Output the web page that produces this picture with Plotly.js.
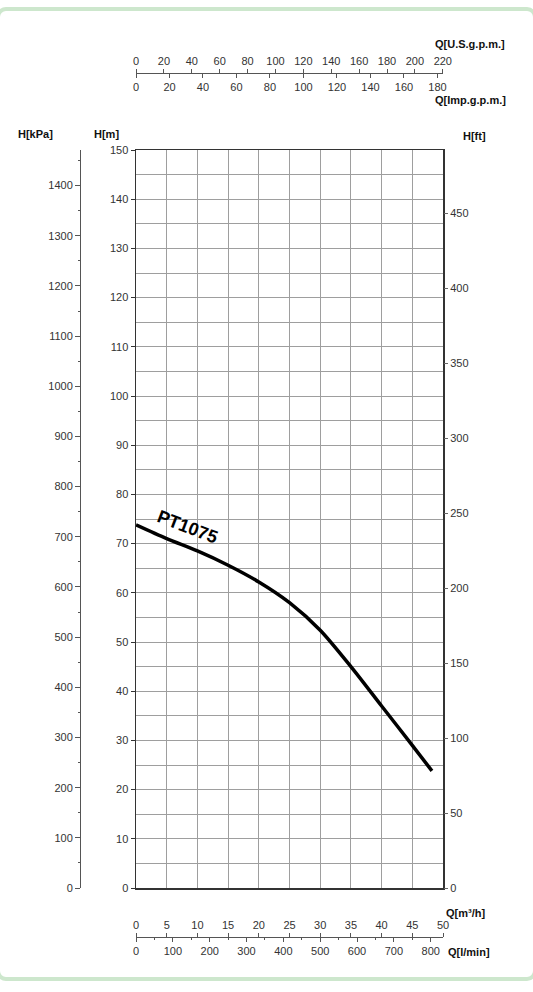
<!DOCTYPE html>
<html>
<head>
<meta charset="utf-8">
<script src="https://cdn.plot.ly/plotly-3.0.1.min.js"></script>
<style>
html,body{margin:0;padding:0;background:#fff;}
#chart{width:533px;height:992px;position:absolute;left:0;top:0;}
#frame{position:absolute;left:-4px;top:7px;width:533px;height:966px;border:4px solid #cde7cd;border-radius:10px;pointer-events:none;}
</style>
</head>
<body>
<div id="chart"></div>
<div id="frame"></div>
<script>
// Pump curve PT1075: flow Q [m³/h] vs head H [m]
const flowM3h = [0, 5, 10, 15, 20, 25, 30, 35, 40, 45, 48.2];
const headM   = [73.8, 71.0, 68.5, 65.6, 62.2, 58.0, 52.4, 45.0, 37.0, 29.0, 23.8];
const curveName = 'PT1075';

// axis ranges
const qMax = 50;          // m³/h
const hMax = 150;         // m
const kPaPerM = 9.80665;
const ftPerM = 1 / 0.3048;
const usGpmPerM3h = 4.40287;
const impGpmPerM3h = 3.66615;
const lminPerM3h = 1000 / 60;

const W = 533, H = 992;
const px = x => x / W;
const py = y => 1 - y / H;

const tickFont = {family: 'Liberation Sans, Arial, sans-serif', size: 11, color: '#333'};
const titleFont = {family: 'Liberation Sans, Arial, sans-serif', size: 11, color: '#111', weight: 'bold'};

const xDom = [px(136), px(443)];
const yDom = [py(888), py(150)];

const traces = [
  {x: flowM3h, y: headM, type: 'scatter', mode: 'lines', name: curveName,
   line: {color: '#000', width: 3.5, shape: 'spline', smoothing: 0.8},
   xaxis: 'x', yaxis: 'y', hoverinfo: 'skip'},
  // invisible anchors so the secondary scales are drawn
  {x: [0], y: [0], xaxis: 'x', yaxis: 'y2', mode: 'markers', marker: {opacity: 0}, hoverinfo: 'skip'},
  {x: [0], y: [0], xaxis: 'x', yaxis: 'y3', mode: 'markers', marker: {opacity: 0}, hoverinfo: 'skip'},
  {x: [0], y: [0], xaxis: 'x2', yaxis: 'y', mode: 'markers', marker: {opacity: 0}, hoverinfo: 'skip'},
  {x: [0], y: [0], xaxis: 'x3', yaxis: 'y', mode: 'markers', marker: {opacity: 0}, hoverinfo: 'skip'},
  {x: [0], y: [0], xaxis: 'x4', yaxis: 'y', mode: 'markers', marker: {opacity: 0}, hoverinfo: 'skip'},
  {x: [0], y: [0], xaxis: 'x5', yaxis: 'y', mode: 'markers', marker: {opacity: 0}, hoverinfo: 'skip'}
];

const gridColor = '#9e9e9e';
const qAxisCommon = {
  anchor: 'free', overlaying: 'x', domain: xDom, showgrid: false, zeroline: false,
  showline: true, linecolor: '#555', linewidth: 1, ticks: 'outside', ticklen: 4,
  tickcolor: '#555', tickfont: tickFont, fixedrange: true
};

function label(text, x, y, xanchor) {
  return {text: text, x: px(x), y: py(y), xref: 'paper', yref: 'paper',
          xanchor: xanchor || 'center', yanchor: 'middle', showarrow: false, font: titleFont};
}

const layout = {
  width: W, height: H,
  margin: {l: 0, r: 0, t: 0, b: 0},
  paper_bgcolor: '#fff', plot_bgcolor: '#fff',
  showlegend: false,
  xaxis: {
    domain: xDom, range: [0, qMax], dtick: 5, tick0: 0,
    showgrid: true, gridcolor: gridColor, gridwidth: 1,
    showticklabels: false, ticks: '', zeroline: false,
    showline: true, mirror: true, linecolor: '#333', linewidth: 1.5, fixedrange: true
  },
  yaxis: {
    domain: yDom, range: [0, hMax], dtick: 10, tick0: 0,
    showgrid: true, gridcolor: gridColor, gridwidth: 1,
    minor: {dtick: 5, showgrid: true, gridcolor: gridColor, gridwidth: 1},
    ticks: 'outside', ticklen: 4, tickcolor: '#333', tickfont: tickFont,
    zeroline: false, showline: true, mirror: true, linecolor: '#333', linewidth: 1.5, fixedrange: true
  },
  yaxis2: {
    domain: yDom, overlaying: 'y', side: 'right', anchor: 'x',
    range: [0, hMax * ftPerM], dtick: 50, tick0: 0,
    showgrid: false, zeroline: false, showline: false,
    ticks: 'outside', ticklen: 4, tickcolor: '#666', tickfont: tickFont, fixedrange: true
  },
  yaxis3: {
    domain: yDom, overlaying: 'y', side: 'left', anchor: 'free', position: px(80),
    range: [0, hMax * kPaPerM], dtick: 100, tick0: 0,
    minor: {dtick: 50, ticks: 'outside', ticklen: 2, tickcolor: '#555'},
    showgrid: false, zeroline: false, showline: true, linecolor: '#555', linewidth: 1,
    ticks: 'outside', ticklen: 5, tickcolor: '#555', tickfont: tickFont, fixedrange: true
  },
  // bottom scales
  xaxis2: Object.assign({}, qAxisCommon, {
    side: 'top', position: py(937), range: [0, qMax], dtick: 5, tick0: 0
  }),
  xaxis3: Object.assign({}, qAxisCommon, {
    side: 'bottom', position: py(937), range: [0, qMax * lminPerM3h], dtick: 100, tick0: 0,
    minor: {dtick: 50, ticks: 'outside', ticklen: 2, tickcolor: '#555'}
  }),
  // top scales
  xaxis4: Object.assign({}, qAxisCommon, {
    side: 'top', position: py(73), range: [0, qMax * usGpmPerM3h], dtick: 20, tick0: 0
  }),
  xaxis5: Object.assign({}, qAxisCommon, {
    side: 'bottom', position: py(73), range: [0, qMax * impGpmPerM3h], dtick: 20, tick0: 0
  }),
  annotations: [
    label('H[kPa]', 35, 134),
    label('H[m]', 106, 134),
    label('H[ft]', 474, 136),
    label('Q[U.S.g.p.m.]', 507, 44, 'right'),
    label('Q[Imp.g.p.m.]', 508, 100, 'right'),
    label('Q[m³/h]', 444, 913, 'left'),
    label('Q[l/min]', 446, 952, 'left'),
    {text: curveName, x: 8.4, y: 73.4, xref: 'x', yref: 'y', xanchor: 'center', yanchor: 'middle',
     showarrow: false, textangle: 21,
     font: {family: 'Liberation Sans, Arial, sans-serif', size: 18, color: '#000', weight: 'bold'}}
  ]
};

Plotly.newPlot('chart', traces, layout, {staticPlot: true, displayModeBar: false});
</script>
</body>
</html>
